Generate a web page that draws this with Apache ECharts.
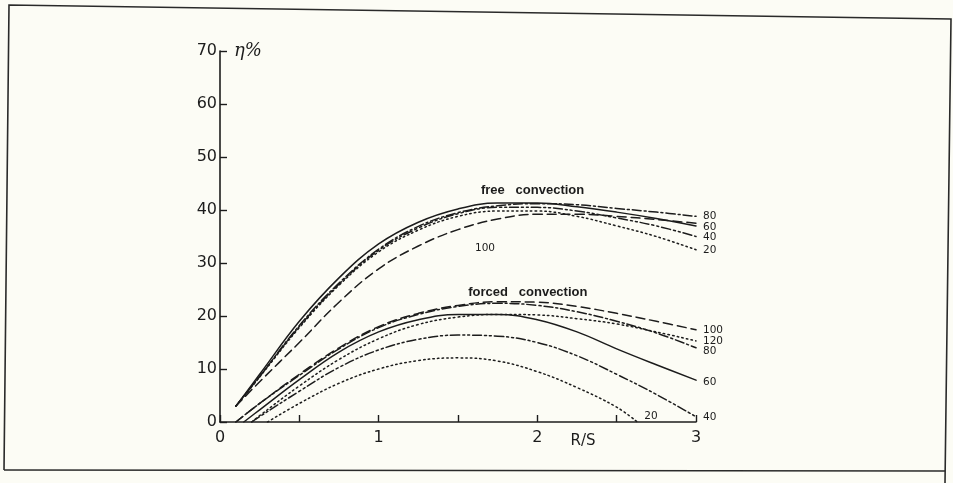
<!DOCTYPE html>
<html>
<head>
<meta charset="utf-8">
<script src="https://cdn.jsdelivr.net/npm/echarts@6/dist/echarts.min.js"></script>
<style>
html,body{margin:0;padding:0;background:#fcfcf5;}
#c{width:953px;height:483px;}
</style>
</head>
<body>
<div id="c"></div>
<script>
// ---- data ----
const xTicks = [0, 1, 2, 3];
const yTicks = [0, 10, 20, 30, 40, 50, 60, 70];

// free convection (R/S values and efficiency %)
const freeX   = [0.1, 0.25, 0.5, 0.75, 1.0, 1.25, 1.5, 1.75, 2.0, 2.25, 2.5, 2.75, 3.0];
const free80  = [3, 8.6, 18.2, 26.2, 32.6, 36.9, 39.5, 40.8, 41.2, 41, 40.3, 39.6, 38.8];
const free60  = [3, 9, 19, 27.2, 33.6, 37.7, 40.2, 41.3, 41.3, 40.6, 39.6, 38.4, 37];
const free40  = [3, 8.6, 18, 26, 32.4, 36.6, 39.3, 40.5, 40.5, 39.8, 38.5, 37, 35];
const free20  = [3, 8.5, 17.8, 25.8, 32.1, 36.2, 38.8, 39.8, 39.8, 38.8, 37, 35, 32.5];
const free100 = [3, 7.6, 15, 22.6, 28.9, 33.2, 36.3, 38.3, 39.2, 39.2, 38.8, 38.2, 37.5];

// forced convection
const forced100X = [0.1, 0.25, 0.5, 0.75, 1, 1.25, 1.5, 1.75, 2, 2.25, 2.5, 2.75, 3];
const forced100  = [0, 3.5, 9, 14, 18, 20.5, 22, 22.7, 22.6, 21.8, 20.5, 19, 17.4];
const forced80X  = [0.1, 0.25, 0.5, 0.75, 1, 1.25, 1.5, 1.75, 2, 2.25, 2.5, 2.75, 3];
const forced80   = [0, 3.5, 8.8, 13.8, 17.8, 20.3, 21.8, 22.4, 22, 20.8, 19, 16.8, 14];
const forced120X = [0.2, 0.25, 0.5, 0.75, 1, 1.25, 1.5, 1.75, 2, 2.25, 2.5, 2.75, 3];
const forced120  = [0, 1.2, 6.8, 11.8, 15.7, 18.4, 19.8, 20.3, 20.2, 19.5, 18.5, 17, 15.3];
const forced60X  = [0.15, 0.25, 0.5, 0.75, 1, 1.25, 1.5, 1.75, 2, 2.25, 2.5, 2.75, 3];
const forced60   = [0, 2.3, 8, 13.2, 17, 19.3, 20.3, 20.3, 19.3, 17, 13.8, 10.8, 7.9];
const forced40X  = [0.2, 0.25, 0.5, 0.75, 1, 1.25, 1.5, 1.75, 2, 2.25, 2.5, 2.75, 3];
const forced40   = [0, 1, 5.8, 10.3, 13.6, 15.6, 16.4, 16.2, 15, 12.5, 9, 5.2, 1.0];
const forced20X  = [0.3, 0.5, 0.75, 1, 1.25, 1.5, 1.75, 2, 2.25, 2.5, 2.63];
const forced20   = [0, 3.5, 7.3, 10, 11.6, 12.1, 11.5, 9.5, 6.5, 2.8, 0];

// annotation texts and their data positions
const freeTitle = 'free   convection';
const freeTitlePos = [1.97, 43.6];
const forcedTitle = 'forced   convection';
const forcedTitlePos = [1.94, 24.4];
const free100LabelPos = [1.67, 32.8];

// ---- styles ----
const INK = '#1c1c1c';
const styles = {
  dotted:  [1.5, 3.2],
  dashdot: [9, 3, 2, 3],
  dash2dot:[9, 3, 2, 3, 2, 3],
  solid:   'solid',
  dashed:  [9, 5]
};
function pairs(xs, ys){ return xs.map((x,i)=>[x, ys[i]]); }

function mkSeries(name, xs, ys, dash, labelOffset, extra){
  const s = {
    type: 'line',
    name: name,
    data: pairs(xs, ys),
    smooth: 0.4,
    showSymbol: false,
    silent: true,
    lineStyle: {color: INK, width: 1.5, type: dash, cap: 'round'},
    endLabel: labelOffset === null ? {show:false} : {
      show: true,
      formatter: name.split(' ')[1],
      color: INK,
      fontFamily: 'DejaVu Sans',
      fontSize: 10.5,
      distance: 7,
      offset: labelOffset || [0,0]
    }
  };
  return Object.assign(s, extra || {});
}

const series = [
  mkSeries('free 80', freeX, free80, styles.dashdot, [0,0]),
  mkSeries('free 60', freeX, free60, styles.solid, [0,1], {
    markPoint: {
      symbol: 'circle', symbolSize: 0, silent: true,
      label: {show:true, color: INK, fontFamily: 'Liberation Sans', fontSize: 13, fontWeight: 'bold', position: 'inside'},
      data: [
        {coord: freeTitlePos, label: {formatter: freeTitle}},
        {coord: forcedTitlePos, label: {formatter: forcedTitle}},
        {coord: free100LabelPos, label: {formatter: '100', fontFamily: 'DejaVu Sans', fontWeight: 'normal', fontSize: 10.5}}
      ]
    }
  }),
  mkSeries('free 40', freeX, free40, styles.dash2dot, [0,1]),
  mkSeries('free 20', freeX, free20, styles.dotted, [0,1]),
  mkSeries('free 100', freeX, free100, styles.dashed, null),
  mkSeries('forced 100', forced100X, forced100, styles.dashed, [0,0]),
  mkSeries('forced 120', forced120X, forced120, styles.dotted, [0,0]),
  mkSeries('forced 80', forced80X, forced80, styles.dashdot, [0,3]),
  mkSeries('forced 60', forced60X, forced60, styles.solid, [0,2]),
  mkSeries('forced 40', forced40X, forced40, styles.dash2dot, [0,1]),
  mkSeries('forced 20', forced20X, forced20, styles.dotted, [0,-6])
];

const chart = echarts.init(document.getElementById('c'), null, {renderer: 'canvas'});
chart.setOption({
  backgroundColor: '#fcfcf5',
  animation: false,
  grid: {left: 220, right: 257, top: 51, bottom: 61, containLabel: false},
  xAxis: {
    type: 'value', min: 0, max: 3, interval: 0.5,
    name: 'R/S', nameLocation: 'middle', nameGap: 12, nameMoveOverlap: false,
    nameTextStyle: {color: INK, fontFamily: 'DejaVu Sans', fontSize: 15, padding: [0,0,0,250]},
    axisLine: {show: true, lineStyle: {color: INK, width: 1.6}},
    axisTick: {show: true, inside: true, length: 7, lineStyle: {color: INK, width: 1.4}},
    axisLabel: {
      color: INK, fontFamily: 'DejaVu Sans', fontSize: 16, margin: 8,
      formatter: v => xTicks.includes(v) ? String(v) : ''
    },
    splitLine: {show: false}
  },
  yAxis: {
    type: 'value', min: 0, max: 70, interval: 10,
    name: 'η%', nameLocation: 'end', nameGap: 0,
    nameTextStyle: {color: INK, fontFamily: 'DejaVu Serif', fontStyle: 'italic', fontSize: 18,
      align: 'left', verticalAlign: 'middle', padding: [0,0,0,14]},
    axisLine: {show: true, lineStyle: {color: INK, width: 1.6}},
    axisTick: {show: true, inside: true, length: 7, lineStyle: {color: INK, width: 1.4}},
    axisLabel: {
      color: INK, fontFamily: 'DejaVu Sans', fontSize: 16, margin: 3,
      formatter: v => yTicks.includes(v) ? String(v) : ''
    },
    splitLine: {show: false}
  },
  graphic: [
    {type: 'polyline', silent: true, shape: {points: [[4,470],[9,5],[951,19],[945,483]]},
     style: {stroke: '#2a2a2a', lineWidth: 1.6, fill: null}},
    {type: 'line', silent: true, shape: {x1: 4, y1: 470, x2: 945, y2: 471},
     style: {stroke: '#2a2a2a', lineWidth: 1.6}}
  ],
  series: series
});
</script>
</body>
</html>
